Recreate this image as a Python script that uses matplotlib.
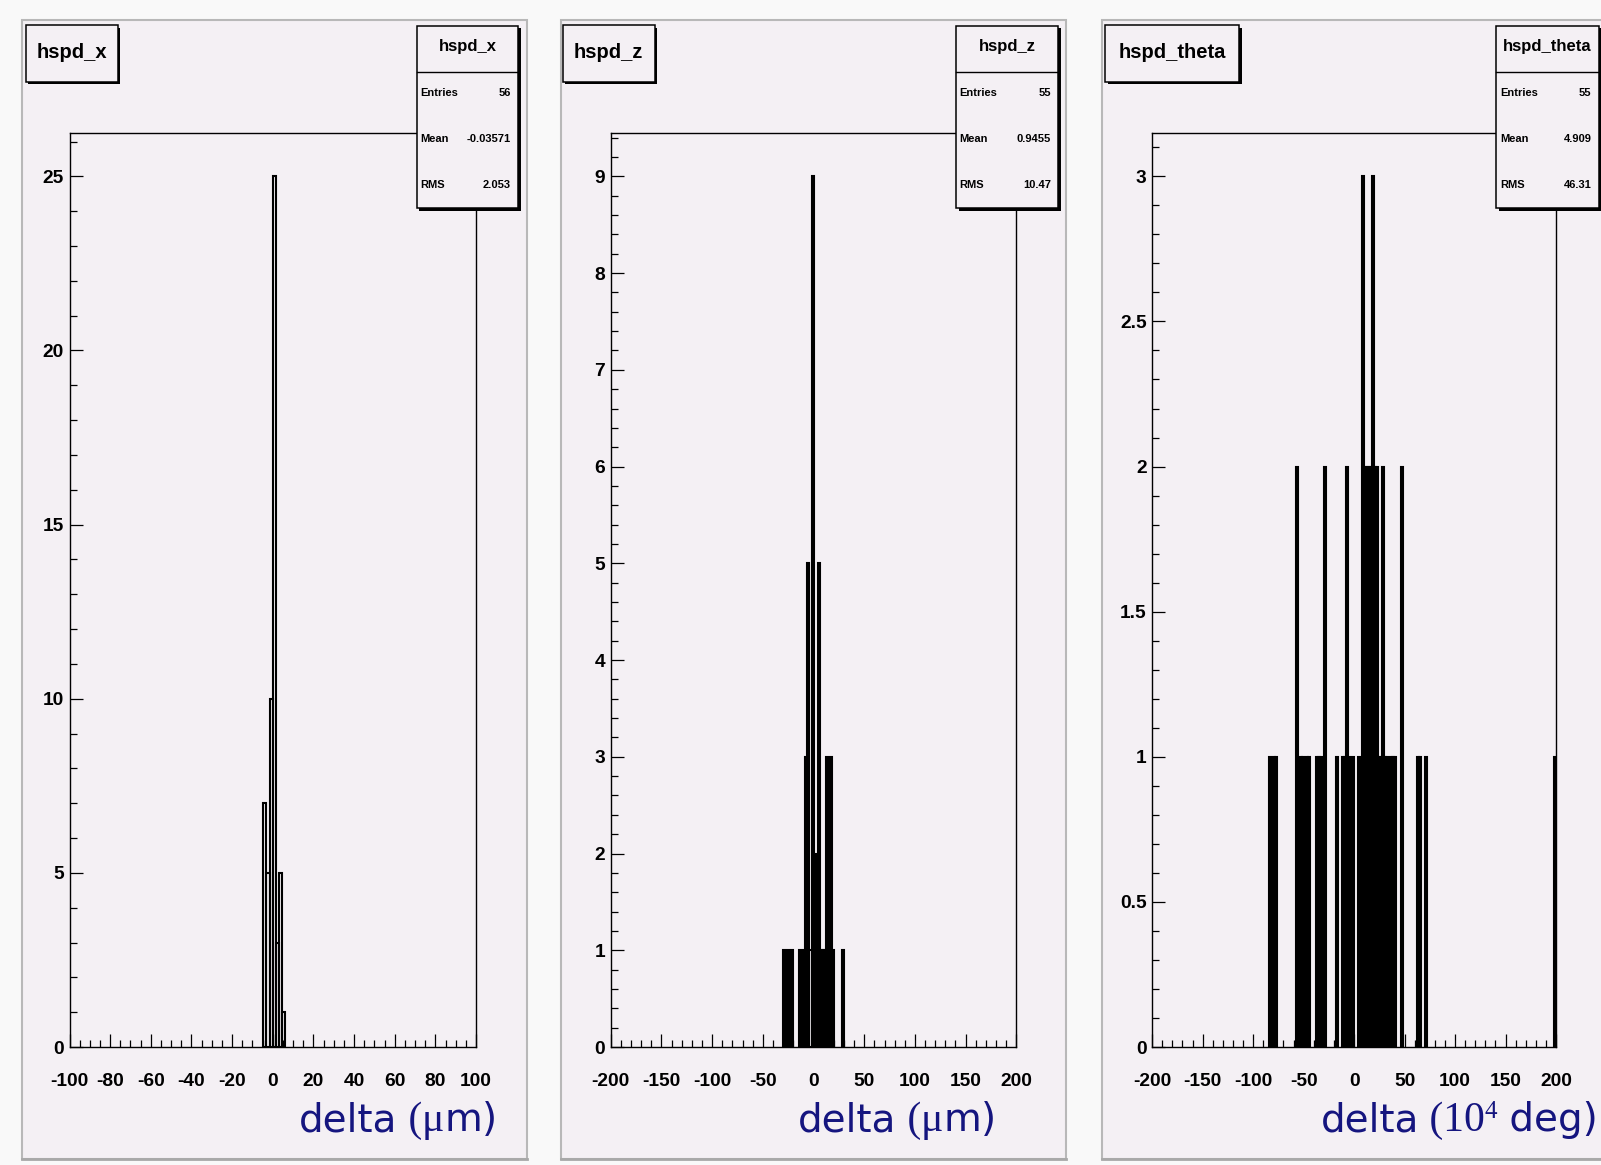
import matplotlib
matplotlib.use('Agg')
import matplotlib.pyplot as plt
from matplotlib.patches import Rectangle
from matplotlib.lines import Line2D
from matplotlib.ticker import MultipleLocator, FormatStrFormatter

W, H = 1601, 1165

# hspd_x : 128 bins entre -100 e 100 (largura 1.5625)
x_centers = [-3.906, -2.344, -0.781, 0.781, 2.344, 3.906, 5.469]
x_counts = [7, 5, 10, 25, 3, 5, 1]

# hspd_z : bins de largura 2 entre -200 e 200
z_centers = [-29, -25, -21, -13, -9, -7, -5, -3, -1, 1, 3, 5, 7, 9, 11, 13, 15, 17, 19, 29]
z_counts = [1, 1, 1, 1, 1, 3, 5, 1, 9, 1, 2, 5, 1, 1, 1, 3, 1, 3, 1, 1]

# hspd_theta : bins de largura 2 entre -200 e 200
t_centers = [-83, -79, -77, -57, -53, -51, -47, -45, -37, -35, -33, -29, -17, -11, -9,
             -7, -5, -1, 5, 9, 11, 13, 15, 17, 19, 21, 23, 25, 27, 29, 31, 33, 37, 39,
             41, 47, 63, 65, 71, 199]
t_counts = [1, 1, 1, 2, 1, 1, 1, 1, 1, 1, 1, 2, 1, 1, 1,
            2, 1, 1, 1, 3, 2, 2, 2, 2, 3, 2, 2, 1, 1, 2, 1, 1, 1, 1,
            1, 2, 1, 1, 1, 1]

names = ['hspd_x', 'hspd_z', 'hspd_theta']
entries = ['56', '55', '55']
means = ['-0.03571', '0.9455', '4.909']
rmss = ['2.053', '10.47', '46.31']

fill = '#f4f0f4'
navy = '#15157f'

plt.rcParams['font.family'] = 'Liberation Sans'
plt.rcParams['font.weight'] = 'bold'

fig = plt.figure(figsize=(W / 100, H / 100), dpi=100, facecolor='#f9f9f9')


def rect(x0, y0, x1, y1, **kw):
    r = Rectangle((x0 / W, 1 - y1 / H), (x1 - x0) / W, (y1 - y0) / H,
                  transform=fig.transFigure, **kw)
    fig.add_artist(r)
    return r


def hline(x0, x1, y, **kw):
    fig.add_artist(Line2D([x0 / W, x1 / W], [1 - y / H, 1 - y / H],
                          transform=fig.transFigure, **kw))


def boxed(x0, y0, x1, y1):
    rect(x0 + 2.5, y0 + 2.5, x1 + 2.5, y1 + 2.5, facecolor='black', edgecolor='none', zorder=4)
    rect(x0, y0, x1, y1, facecolor=fill, edgecolor='black', linewidth=1.1, zorder=5)


def draw_label(pieces, x_right, y_base):
    renderer = fig.canvas.get_renderer()
    x = x_right
    for txt, fam, size, dy in reversed(pieces):
        t = fig.text(x / W, 1 - (y_base - dy) / H, txt, ha='right', va='baseline',
                     fontsize=size, family=fam, weight='normal', color=navy)
        x = t.get_window_extent(renderer).x0


# posicoes de cada painel (pixels, a partir do topo)
panels = [
    dict(frame=(22, 527), axes=(69.5, 476), title=(25.5, 117.5), stats=(416.8, 518), lab=497),
    dict(frame=(561, 1065.5), axes=(610.8, 1016.3), title=(562.8, 654.8), stats=(956, 1058), lab=996),
    dict(frame=(1102, 1640), axes=(1152.2, 1556), title=(1105, 1239), stats=(1496.4, 1598.6), lab=1598),
]

hist_data = [(x_centers, x_counts, 200 / 128, (-100, 100), 26.25, 20, 5, 5, 1),
             (z_centers, z_counts, 2, (-200, 200), 9.45, 50, 10, 1, 0.2),
             (t_centers, t_counts, 2, (-200, 200), 3.15, 50, 10, 0.5, 0.1)]

sans = 'DejaVu Sans'
serif = 'Liberation Serif'
labels = [
    [('delta', sans, 28, 0), (' (', serif, 30, 0), ('μ', serif, 30, 0), ('m', sans, 28, 0), (')', sans, 28, 0)],
    [('delta', sans, 28, 0), (' (', serif, 30, 0), ('μ', serif, 30, 0), ('m', sans, 28, 0), (')', sans, 28, 0)],
    [('delta', sans, 28, 0), (' (10', serif, 30, 0), ('4', serif, 18, 13), (' deg)', sans, 28, 0)],
]

ytop, ybot = 132.8, 1047

for i, p in enumerate(panels):
    fx0, fx1 = p['frame']
    rect(fx0, 20, fx1, 1159, facecolor=fill, edgecolor='#b8b8b8', linewidth=1.5, zorder=-3)
    hline(fx0, fx1, 1159, color='#a8a8a8', linewidth=2, zorder=-2)

    ax0, ax1 = p['axes']
    ax = fig.add_axes([ax0 / W, 1 - ybot / H, (ax1 - ax0) / W, (ybot - ytop) / H])
    ax.set_facecolor('none')
    centers, counts, bw, xlim, ymax, xmaj, xmin, ymaj, ymin = hist_data[i]
    ax.bar(centers, counts, width=bw, fill=False, edgecolor='black', linewidth=1.5)
    ax.set_xlim(*xlim)
    ax.set_ylim(0, ymax)
    ax.xaxis.set_major_locator(MultipleLocator(xmaj))
    ax.xaxis.set_minor_locator(MultipleLocator(xmin))
    ax.yaxis.set_major_locator(MultipleLocator(ymaj))
    ax.yaxis.set_minor_locator(MultipleLocator(ymin))
    ax.xaxis.set_major_formatter(FormatStrFormatter('%g'))
    ax.yaxis.set_major_formatter(FormatStrFormatter('%g'))
    for s in ax.spines.values():
        s.set_linewidth(1.0)
    ax.tick_params(which='both', direction='in', top=False, right=False, width=0.9, labelsize=13.8)
    ax.tick_params(which='major', length=9.5)
    ax.tick_params(which='minor', length=5)
    ax.tick_params(axis='x', which='major', pad=19)
    ax.tick_params(axis='y', which='major', pad=4)

    # caixa do titulo
    tx0, tx1 = p['title']
    boxed(tx0, 25.5, tx1, 81.5)
    fig.text((tx0 + tx1) / 2 / W, 1 - 52 / H, names[i], ha='center', va='center',
             fontsize=14.5, zorder=6)

    # caixa de estatisticas
    sx0, sx1 = p['stats']
    boxed(sx0, 25.5, sx1, 208)
    hline(sx0, sx1, 71.5, color='black', linewidth=1.0, zorder=6)
    fig.text((sx0 + sx1) / 2 / W, 1 - 47 / H, names[i], ha='center', va='center',
             fontsize=12, zorder=6)
    for yy, k, v in [(93, 'Entries', entries[i]), (139, 'Mean', means[i]), (185, 'RMS', rmss[i])]:
        fig.text((sx0 + 3.5) / W, 1 - yy / H, k, ha='left', va='center', fontsize=8, zorder=6)
        fig.text((sx1 - 7) / W, 1 - yy / H, v, ha='right', va='center', fontsize=8, zorder=6)

    draw_label(labels[i], p['lab'], 1131)

fig.savefig('out.png', dpi=100, facecolor=fig.get_facecolor())
